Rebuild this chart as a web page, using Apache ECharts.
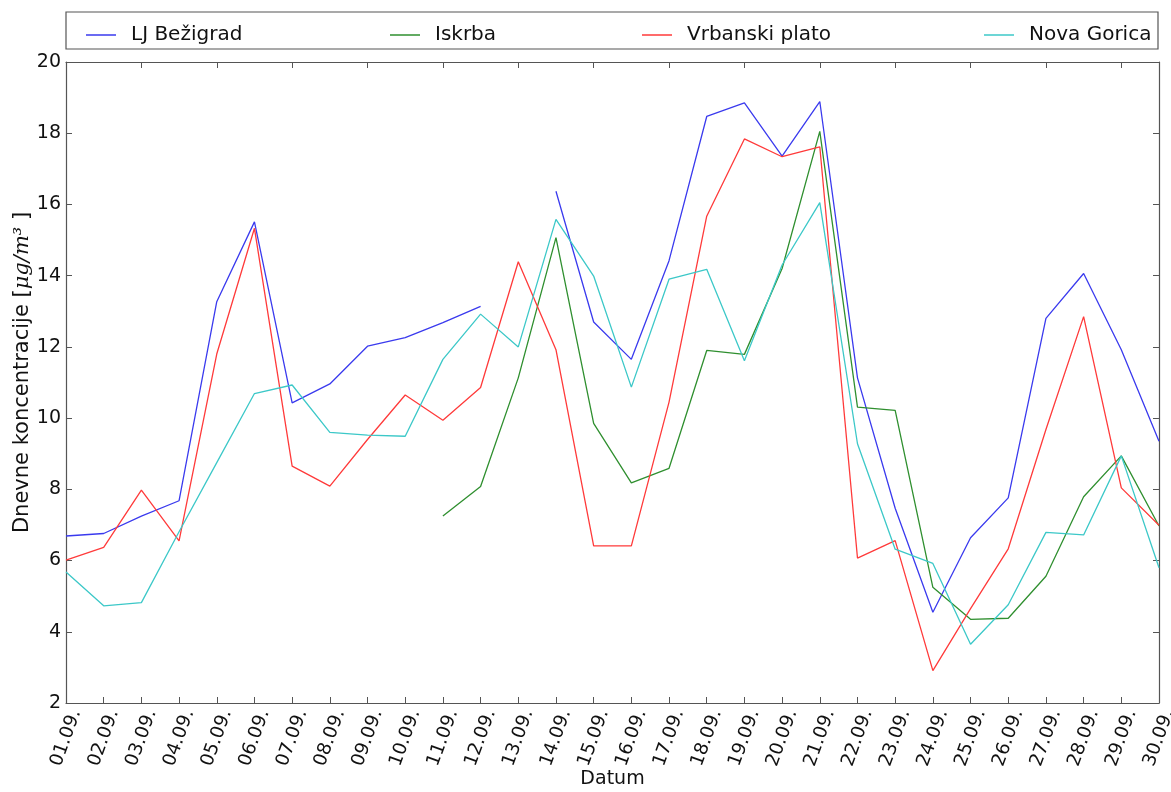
<!DOCTYPE html>
<html>
<head>
<meta charset="utf-8">
<script src="https://cdn.jsdelivr.net/npm/echarts@6/dist/echarts.min.js"></script>
<style>
  html, body { margin: 0; padding: 0; background: #fff; }
  #chart { width: 1171px; height: 792px; }
</style>
</head>
<body>
<div id="chart"></div>
<script>
// Daily PM concentrations, September
const days = ['01.09.','02.09.','03.09.','04.09.','05.09.','06.09.','07.09.','08.09.','09.09.','10.09.',
              '11.09.','12.09.','13.09.','14.09.','15.09.','16.09.','17.09.','18.09.','19.09.','20.09.',
              '21.09.','22.09.','23.09.','24.09.','25.09.','26.09.','27.09.','28.09.','29.09.','30.09.'];

const ljBezigrad = [6.69, 6.76, 7.25, 7.68, 13.27, 15.51, 10.43, 10.96, 12.02, 12.26,
                    12.68, 13.14, null, 16.37, 12.70, 11.65, 14.42, 18.47, 18.85, 17.36,
                    18.89, 11.13, 7.47, 4.55, 6.64, 7.76, 12.80, 14.06, 11.92, 9.35];

const iskrba = [null, null, null, null, null, null, null, null, null, null,
                7.25, 8.08, 11.13, 15.07, 9.85, 8.18, 8.59, 11.90, 11.79, 14.2,
                18.05, 10.31, 10.22, 5.25, 4.35, 4.38, 5.56, 7.79, 8.94, 6.97];

const vrbanskiPlato = [6.01, 6.37, 7.98, 6.55, 11.80, 15.33, 8.65, 8.09, 9.40, 10.65,
                       9.94, 10.86, 14.39, 11.92, 6.41, 6.41, 10.45, 15.67, 17.84, 17.34,
                       17.62, 6.07, 6.56, 2.91, 4.65, 6.33, 9.68, 12.85, 8.04, 6.99];

const novaGorica = [5.68, 4.73, 4.82, 6.81, 8.75, 10.69, 10.93, 9.60, 9.52, 9.49,
                    11.65, 12.92, 12.00, 15.58, 13.99, 10.87, 13.90, 14.18, 11.61, 14.30,
                    16.05, 9.28, 6.32, 5.92, 3.65, 4.76, 6.79, 6.72, 8.94, 5.80];

const yTicks = { min: 2, max: 20, interval: 2 };

const stations = [
  { name: 'LJ Bežigrad',    data: ljBezigrad,    color: '#3a3aee', legendLeft: 81 },
  { name: 'Iskrba',         data: iskrba,        color: '#2f8f2f', legendLeft: 385 },
  { name: 'Vrbanski plato', data: vrbanskiPlato, color: '#ff3a3a', legendLeft: 637 },
  { name: 'Nova Gorica',    data: novaGorica,    color: '#3cc8c8', legendLeft: 979 }
];

const FONT = 'DejaVu Sans';
const frameColor = '#555';

const chart = echarts.init(document.getElementById('chart'), null, { renderer: 'canvas' });

const option = {
  backgroundColor: '#ffffff',
  animation: false,
  textStyle: { fontFamily: FONT },
  grid: { left: 66, right: 12, top: 62, bottom: 89, containLabel: false, outerBoundsMode: 'none' },
  graphic: [{
    type: 'rect',
    shape: { x: 66, y: 12, width: 1092, height: 37 },
    style: { fill: 'none', stroke: frameColor, lineWidth: 1.2 },
    z: 10
  }],
  legend: stations.map(s => ({
    data: [s.name],
    left: s.legendLeft,
    top: 20,
    icon: 'rect',
    itemWidth: 30,
    itemHeight: 1.5,
    textStyle: { fontFamily: FONT, fontSize: 20, color: '#111', padding: [0, 0, 0, 10] }
  })),
  xAxis: [{
    type: 'category',
    data: days,
    boundaryGap: false,
    position: 'bottom',
    name: 'Datum',
    nameLocation: 'middle',
    nameGap: 67,
    nameMoveOverlap: false,
    nameTextStyle: { fontFamily: FONT, fontSize: 19, color: '#111' },
    axisLine: { show: true, lineStyle: { color: frameColor, width: 1.2 } },
    axisTick: { show: true, inside: true, length: 6, lineStyle: { color: frameColor } },
    axisLabel: {
      interval: 0, rotate: 70, margin: 35, align: 'center', verticalAlign: 'middle',
      fontFamily: FONT, fontSize: 18.5, color: '#111'
    },
    splitLine: { show: false }
  }, {
    type: 'category',
    data: days,
    boundaryGap: false,
    position: 'top',
    axisLine: { show: true, lineStyle: { color: frameColor, width: 1.2 } },
    axisTick: { show: true, inside: true, length: 6, lineStyle: { color: frameColor } },
    axisLabel: { show: false },
    splitLine: { show: false }
  }],
  yAxis: [{
    type: 'value',
    min: yTicks.min,
    max: yTicks.max,
    interval: yTicks.interval,
    position: 'left',
    name: '{a|Dnevne koncentracije [}{i|μg/m³}{a| ]}',
    nameLocation: 'middle',
    nameRotate: 90,
    nameGap: 33,
    nameMoveOverlap: false,
    nameTextStyle: {
      padding: [0, 0, 0, 20],
      rich: {
        a: { fontFamily: FONT, fontSize: 21, color: '#111' },
        i: { fontFamily: 'DejaVu Serif', fontStyle: 'italic', fontSize: 21, color: '#111' }
      }
    },
    axisLine: { show: true, lineStyle: { color: frameColor, width: 1.2 } },
    axisTick: { show: true, inside: true, length: 6, lineStyle: { color: frameColor } },
    axisLabel: { margin: 5, fontFamily: FONT, fontSize: 19, color: '#111' },
    splitLine: { show: false }
  }, {
    type: 'value',
    min: yTicks.min,
    max: yTicks.max,
    interval: yTicks.interval,
    position: 'right',
    axisLine: { show: true, lineStyle: { color: frameColor, width: 1.2 } },
    axisTick: { show: true, inside: true, length: 6, lineStyle: { color: frameColor } },
    axisLabel: { show: false },
    splitLine: { show: false }
  }],
  series: stations.map(s => ({
    name: s.name,
    type: 'line',
    data: s.data,
    xAxisIndex: 0,
    yAxisIndex: 0,
    symbol: 'none',
    connectNulls: false,
    color: s.color,
    lineStyle: { color: s.color, width: 1.3 }
  }))
};

chart.setOption(option);
</script>
</body>
</html>
